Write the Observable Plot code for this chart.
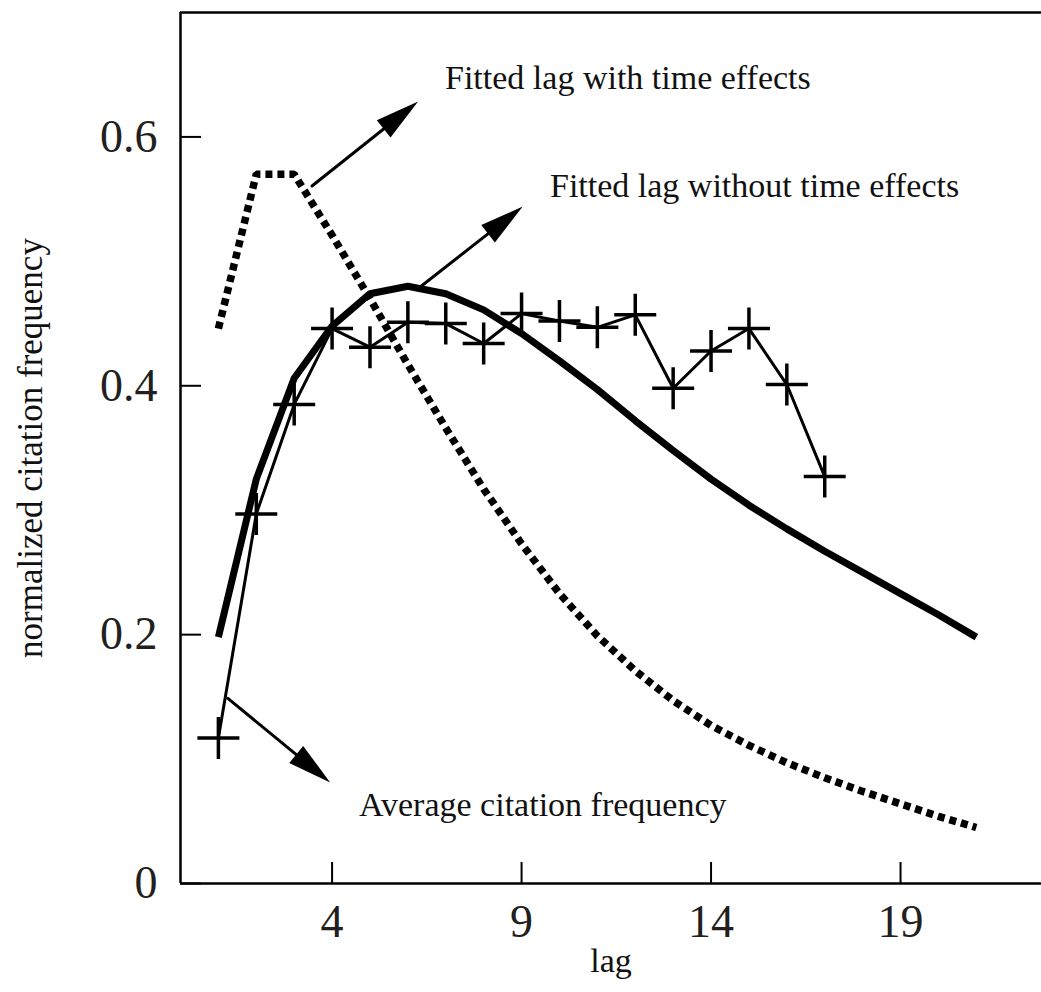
<!DOCTYPE html>
<html>
<head>
<meta charset="utf-8">
<script src="https://cdn.jsdelivr.net/npm/d3@7"></script>
<script src="https://cdn.jsdelivr.net/npm/@observablehq/plot@0.6"></script>
<style>
  html, body { margin: 0; padding: 0; background: #fff; }
  #chart svg { display: block; }
</style>
</head>
<body>
<div id="chart"></div>
<script>
// ---- data ----
const lags = [1, 2, 3, 4, 5, 6, 7, 8, 9, 10, 11, 12, 13, 14, 15, 16, 17];
const averageFreq = [0.117, 0.297, 0.385, 0.446, 0.431, 0.451, 0.450, 0.434, 0.458, 0.452, 0.447, 0.457, 0.398, 0.428, 0.446, 0.401, 0.327];

const fitLags = [1, 2, 3, 4, 5, 6, 7, 8, 9, 10, 11, 12, 13, 14, 15, 16, 17, 18, 19, 20, 21];
const fittedWithout = [0.198, 0.325, 0.406, 0.448, 0.474, 0.480, 0.474, 0.461, 0.442, 0.420, 0.397, 0.372, 0.348, 0.325, 0.304, 0.285, 0.267, 0.250, 0.233, 0.216, 0.198];
const fittedWith = [0.446, 0.570, 0.570, 0.521, 0.470, 0.417, 0.366, 0.317, 0.273, 0.233, 0.199, 0.171, 0.147, 0.127, 0.111, 0.097, 0.085, 0.074, 0.064, 0.054, 0.045];

const xTicks = [4, 9, 14, 19];
const yTicks = [0, 0.2, 0.4, 0.6];
const xDomain = [0, 22.72];
const yDomain = [0, 0.7];

// annotations (text + arrow), in data units
const annotationLabels = ["Fitted lag with time effects", "Fitted lag without time effects", "Average citation frequency"];
const annotationTextX = [6.98, 9.75, 4.71];
const annotationTextY = [0.6475, 0.5606, 0.0627];
const arrowFromX = [3.47, 6.29, 1.25];
const arrowFromY = [0.5606, 0.4786, 0.1488];
const arrowToX = [6.27, 9.03, 3.95];
const arrowToY = [0.6284, 0.544, 0.0812];

// ---- build ----
const avgData = lags.map((x, i) => ({x, y: averageFreq[i]}));
const withoutData = fitLags.map((x, i) => ({x, y: fittedWithout[i]}));
const withData = fitLags.map((x, i) => ({x, y: fittedWith[i]}));
const idx = annotationLabels.map((_, i) => i);

const serif = "'Liberation Serif', 'Times New Roman', serif";
const common = {
  width: 1041,
  height: 992,
  marginLeft: 180,
  marginRight: 0,
  marginTop: 12,
  marginBottom: 109,
  x: {domain: xDomain, label: null},
  y: {domain: yDomain, label: null}
};

// probe scales to orient the arrow heads along their shafts
const probe = Plot.plot({...common, marks: [Plot.ruleY([0])]});
const sx = probe.scale("x"), sy = probe.scale("y");
const headAngle = idx.map(i => {
  const dx = sx.apply(arrowToX[i]) - sx.apply(arrowFromX[i]);
  const dy = sy.apply(arrowToY[i]) - sy.apply(arrowFromY[i]);
  return Math.atan2(dx, -dy) * 180 / Math.PI;
});

const plusSymbol = {
  draw(context, size) {
    const r = Math.sqrt(size / Math.PI);
    context.moveTo(-r, 0); context.lineTo(r, 0);
    context.moveTo(0, -r); context.lineTo(0, r);
  }
};

const chart = Plot.plot({
  ...common,
  style: {fontFamily: serif, background: "#fff", color: "#000"},
  marks: [
    // frame: left, bottom, top
    Plot.ruleX([xDomain[0]], {stroke: "#000", strokeWidth: 2.5}),
    Plot.ruleY([yDomain[0], yDomain[1]], {stroke: "#000", strokeWidth: 2.5}),
    // axes with inward ticks
    Plot.axisX(xTicks, {
      tickSize: -21, tickPadding: 42, strokeWidth: 2, stroke: "#000",
      fontSize: 46, fontFamily: serif, fill: "#231f20", tickFormat: d => String(d)
    }),
    Plot.axisY(yTicks, {
      tickSize: -21, tickPadding: 44, strokeWidth: 2, stroke: "#000",
      fontSize: 46, fontFamily: serif, fill: "#231f20",
      tickFormat: d => d === 0 ? "0" : d.toFixed(1)
    }),
    // axis titles
    Plot.text(["lag"], {frameAnchor: "bottom", dy: 88, fontSize: 34, fontFamily: serif, fill: "#111"}),
    Plot.text(["normalized citation frequency"], {frameAnchor: "left", textAnchor: "middle", dx: -150, rotate: -90, fontSize: 35, fontFamily: serif, fill: "#111"}),
    // series
    Plot.line(withData, {x: "x", y: "y", stroke: "#000", strokeWidth: 7.5, strokeDasharray: "7,5", strokeLinecap: "butt", strokeLinejoin: "miter"}),
    Plot.line(withoutData, {x: "x", y: "y", stroke: "#000", strokeWidth: 7, strokeLinecap: "butt", strokeLinejoin: "miter"}),
    Plot.line(avgData, {x: "x", y: "y", stroke: "#000", strokeWidth: 3, strokeLinejoin: "miter"}),
    Plot.dot(avgData, {x: "x", y: "y", symbol: plusSymbol, r: 21, stroke: "#000", strokeWidth: 3.5, fill: "none"}),
    // annotation arrows
    Plot.arrow(idx, {
      x1: i => arrowFromX[i], y1: i => arrowFromY[i],
      x2: i => arrowToX[i], y2: i => arrowToY[i],
      headLength: 0, insetEnd: 30, stroke: "#000", strokeWidth: 3
    }),
    Plot.vector(idx, {
      x: i => arrowToX[i], y: i => arrowToY[i], rotate: i => headAngle[i],
      length: 44, r: 11, shape: "spike", anchor: "end", fill: "#000", stroke: "none"
    }),
    Plot.text(idx, {
      x: i => annotationTextX[i], y: i => annotationTextY[i], text: i => annotationLabels[i],
      textAnchor: "start", lineAnchor: "middle", fontSize: 34, fontFamily: serif, fill: "#111"
    })
  ]
});

document.getElementById("chart").appendChild(chart);
</script>
</body>
</html>
